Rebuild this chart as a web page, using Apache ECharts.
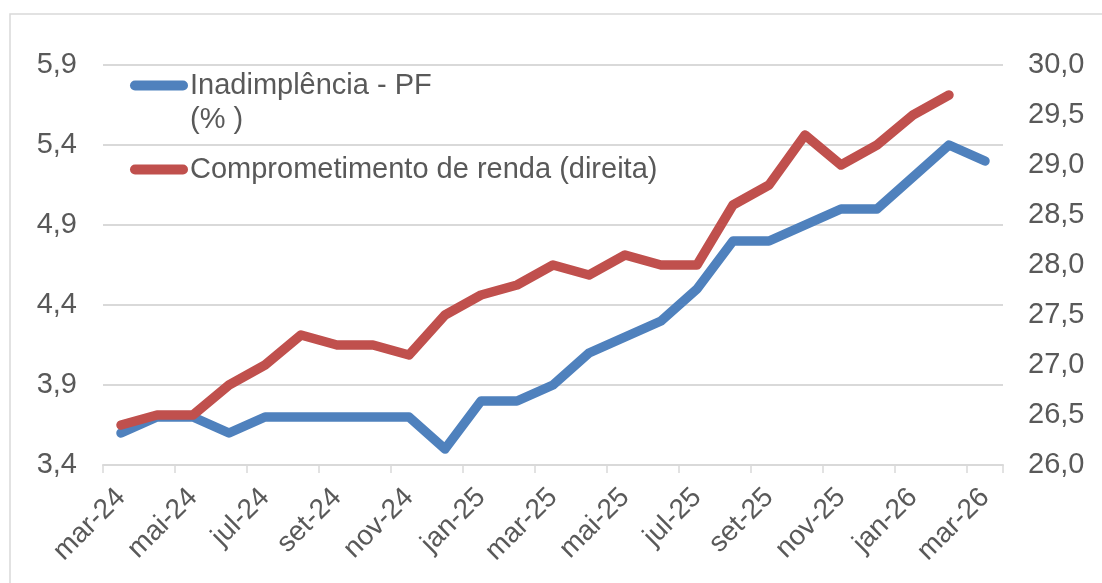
<!DOCTYPE html>
<html>
<head>
<meta charset="utf-8">
<script src="https://cdn.jsdelivr.net/npm/echarts@6/dist/echarts.min.js"></script>
<style>
html,body{margin:0;padding:0;background:#fff;}
#chart{width:1102px;height:583px;}
</style>
</head>
<body>
<div id="chart"></div>
<script>
var categories = ['mar-24','abr-24','mai-24','jun-24','jul-24','ago-24','set-24','out-24','nov-24','dez-24',
  'jan-25','fev-25','mar-25','abr-25','mai-25','jun-25','jul-25','ago-25','set-25','out-25','nov-25','dez-25',
  'jan-26','fev-26','mar-26'];
var inadimplencia = [3.6,3.7,3.7,3.6,3.7,3.7,3.7,3.7,3.7,3.5,
  3.8,3.8,3.9,4.1,4.2,4.3,4.5,4.8,4.8,4.9,5.0,5.0,
  5.2,5.4,5.3];
var comprometimento = [26.4,26.5,26.5,26.8,27.0,27.3,27.2,27.2,27.1,27.5,
  27.7,27.8,28.0,27.9,28.1,28.0,28.0,28.6,28.8,29.3,29.0,29.2,
  29.5,29.7,null];
var leftTicks = [3.4,3.9,4.4,4.9,5.4,5.9];
var rightTicks = [26.0,26.5,27.0,27.5,28.0,28.5,29.0,29.5,30.0];

var seriesNames = ['Inadimplência - PF', 'Comprometimento de renda (direita)'];
var textColor = '#595959';
var font = 'Liberation Sans, Arial, sans-serif';
function fmt(v){ return v.toFixed(1).replace('.', ','); }
var pillIcon = 'path://M5,0 L53,0 A5,5 0 0 1 53,10 L5,10 A5,5 0 0 1 5,0 Z';

var chart = echarts.init(document.getElementById('chart'));
chart.setOption({
  animation: false,
  backgroundColor: '#ffffff',
  textStyle: { fontFamily: font },
  graphic: [
    { type: 'rect', shape: { x: 10, y: 14, width: 1200, height: 700 },
      style: { fill: 'none', stroke: '#d9d9d9', lineWidth: 1.5 }, silent: true, z: -1 },
    { type: 'text', left: 190, top: 105,
      style: { text: '(% )', fill: textColor, font: '29px ' + font }, silent: true }
  ],
  legend: [
    { data: [seriesNames[0]], left: 130, top: 71, icon: pillIcon, itemWidth: 58, itemHeight: 10,
      itemGap: 0, padding: 0,
      textStyle: { color: textColor, fontSize: 29, fontFamily: font, padding: [0,0,0,-3] } },
    { data: [seriesNames[1]], left: 130, top: 155, icon: pillIcon, itemWidth: 58, itemHeight: 10,
      itemGap: 0, padding: 0,
      textStyle: { color: textColor, fontSize: 29, fontFamily: font, padding: [0,0,0,-3] } }
  ],
  grid: { left: 103, right: 99, top: 65, bottom: 118, containLabel: false },
  xAxis: {
    type: 'category',
    data: categories,
    boundaryGap: true,
    axisLine: { show: true, lineStyle: { color: '#d9d9d9', width: 2 } },
    axisTick: { show: true, interval: 1, length: 8, lineStyle: { color: '#d9d9d9', width: 1.5 } },
    axisLabel: { interval: 1, rotate: 45, color: textColor, fontSize: 28, fontFamily: font, margin: 28 },
    splitLine: { show: false }
  },
  yAxis: [
    {
      type: 'value', min: 3.4, max: 5.9, position: 'left',
      axisLine: { show: false }, axisTick: { show: false, customValues: leftTicks },
      axisLabel: { customValues: leftTicks, formatter: fmt, color: textColor, fontSize: 29, fontFamily: font, margin: 26 },
      splitLine: { show: true, lineStyle: { color: '#d9d9d9', width: 2 } }
    },
    {
      type: 'value', min: 26, max: 30, interval: 0.5, position: 'right',
      axisLine: { show: false }, axisTick: { show: false },
      axisLabel: { formatter: fmt, color: textColor, fontSize: 29, fontFamily: font, margin: 25 },
      splitLine: { show: false }
    }
  ],
  series: [
    {
      name: seriesNames[0], type: 'line', yAxisIndex: 0, data: inadimplencia,
      showSymbol: false, symbol: 'none', color: '#4F81BD',
      lineStyle: { width: 9.5, color: '#4F81BD', cap: 'round', join: 'round' }
    },
    {
      name: seriesNames[1], type: 'line', yAxisIndex: 1, data: comprometimento,
      showSymbol: false, symbol: 'none', color: '#C0504D',
      lineStyle: { width: 9.5, color: '#C0504D', cap: 'round', join: 'round' }
    }
  ]
});
</script>
</body>
</html>
